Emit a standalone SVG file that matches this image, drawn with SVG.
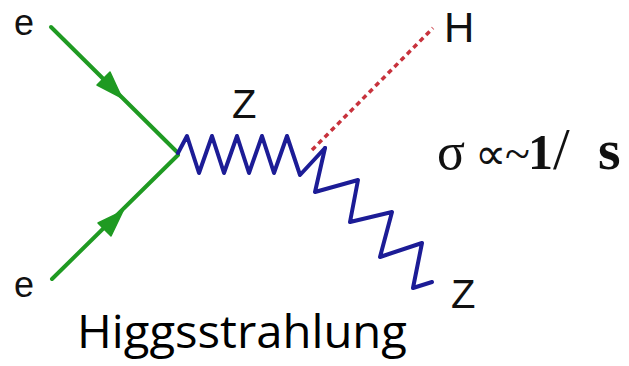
<svg xmlns="http://www.w3.org/2000/svg" width="629" height="366" viewBox="0 0 629 366">
<style>
.fermion{stroke:#1f9a22;stroke-width:4;fill:none;stroke-linecap:round}
.arrow{fill:#1f9a22;stroke:#1f9a22;stroke-width:1.5;stroke-linejoin:round}
.boson{stroke:#1c1c96;stroke-width:4;fill:none;stroke-linejoin:round;stroke-linecap:round}
.higgs{stroke:#c8323c;stroke-width:3.5;fill:none;stroke-dasharray:5 4}
.lbl{font-family:"Liberation Sans",Arial,sans-serif;fill:#111}
.math{font-family:"Liberation Serif","Times New Roman",serif;fill:#111}
.title{font-family:"Open Sans","DejaVu Sans",sans-serif;fill:#000}
</style>
<rect width="629" height="366" fill="#ffffff"/>
<g id="connectors">
  <line class="fermion" x1="51" y1="27" x2="178" y2="153"/>
  <polygon class="arrow" points="122,98 97,85 110,72"/>
  <line class="fermion" x1="52" y1="279" x2="178" y2="155"/>
  <polygon class="arrow" points="123,211 111,236 98,223"/>
  <path class="boson" d="M178,153 L187,136 L199,173 L212,136 L224,173 L237,136 L249,173 L262,136 L274,173 L287,136 L300,175 L325,148"/>
  <polyline class="boson" points="325,148 315,192 358,180 350,222 392,212 380,257 422,243 413,288 432,282"/>
  <line class="higgs" x1="312" y1="150" x2="433" y2="28"/>
</g>
<g id="node-e1"><text class="lbl" x="14" y="35" font-size="36">e</text></g>
<g id="node-e2"><text class="lbl" x="14" y="297" font-size="36">e</text></g>
<g id="node-Z1"><text class="lbl" x="232" y="118" font-size="40">Z</text></g>
<g id="node-H"><text class="lbl" x="444" y="42" font-size="42">H</text></g>
<g id="node-Z2"><text class="lbl" x="451" y="308" font-size="40">Z</text></g>
<g id="formula">
  <text class="math" y="169" font-size="50"><tspan x="437" font-size="52">σ</tspan><tspan x="475" font-size="44">∝</tspan><tspan x="505" font-size="46">~</tspan><tspan x="528" font-weight="bold">1</tspan><tspan x="553" font-size="60">/</tspan><tspan x="598" font-size="58" font-weight="bold">s</tspan></text>
</g>
<g id="caption"><text class="title" x="77" y="348" font-size="46" textLength="330" lengthAdjust="spacingAndGlyphs">Higgsstrahlung</text></g>
</svg>
